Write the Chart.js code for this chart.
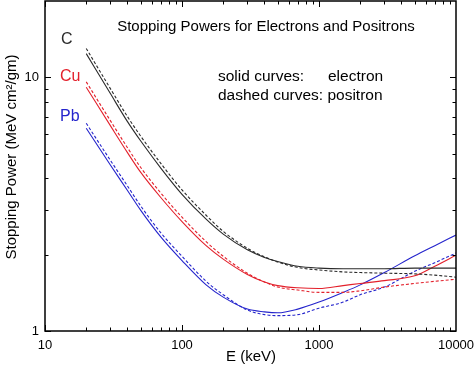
<!DOCTYPE html>
<html>
<head>
<meta charset="utf-8">
<script src="https://cdn.jsdelivr.net/npm/chart.js@4"></script>
<style>
  body { margin: 0; background: #fff; }
  canvas { display: block; }
</style>
</head>
<body>
<canvas id="spChart" width="474" height="366"></canvas>
<script>
// Energies (keV) and stopping powers (MeV cm2/gm)
const energies = [20, 30, 40, 50, 70, 100, 150, 200, 300, 400, 500, 700, 1000, 1500, 2000, 3000, 5000, 7000, 10000]
const cElectron = [12.4, 8.63, 6.69, 5.61, 4.39, 3.46, 2.76, 2.41, 2.09, 1.95, 1.88, 1.80, 1.77, 1.76, 1.76, 1.76, 1.77, 1.77, 1.77]
const cPositron = [13.0, 9.03, 7.0, 5.86, 4.58, 3.60, 2.86, 2.47, 2.12, 1.96, 1.87, 1.78, 1.74, 1.71, 1.70, 1.69, 1.68, 1.66, 1.63]
const cuElectron = [9.14, 6.45, 5.05, 4.22, 3.36, 2.70, 2.17, 1.92, 1.67, 1.56, 1.51, 1.48, 1.47, 1.51, 1.54, 1.58, 1.65, 1.80, 1.99]
const cuPositron = [9.60, 6.75, 5.28, 4.41, 3.50, 2.81, 2.25, 1.97, 1.69, 1.56, 1.49, 1.45, 1.42, 1.42, 1.44, 1.49, 1.54, 1.57, 1.60]
const pbElectron = [6.30, 4.51, 3.58, 2.99, 2.35, 1.895, 1.52, 1.36, 1.22, 1.19, 1.18, 1.22, 1.30, 1.42, 1.52, 1.70, 1.98, 2.17, 2.39]
const pbPositron = [6.59, 4.71, 3.73, 3.11, 2.44, 1.97, 1.57, 1.39, 1.21, 1.16, 1.15, 1.16, 1.23, 1.30, 1.39, 1.49, 1.72, 1.86, 2.03]

const xTickLabels = ["10", "100", "1000", "10000"]
const yTickLabels = ["1", "10"]

const BLACK = "#2a2a2a"
const RED = "#e3202b"
const BLUE = "#2424cc"
const FONT = "'Liberation Sans', Arial, sans-serif"

const pts = (vals) => energies.map((e, i) => ({ x: e, y: vals[i] }))

function series(label, vals, color, dashed) {
  return {
    label: label,
    data: pts(vals),
    borderColor: color,
    borderWidth: 1.1,
    borderDash: dashed ? [3, 2] : [],
    pointRadius: 0,
    fill: false,
    cubicInterpolationMode: "monotone",
  }
}

// frame, inward ticks, tick labels and annotations
const framePlugin = {
  id: "frame",
  afterDraw(chart) {
    const c = chart.ctx
    const xs = chart.scales.x
    const ys = chart.scales.y
    const a = chart.chartArea
    c.save()
    c.strokeStyle = "#000"
    c.lineWidth = 1.5
    c.strokeRect(a.left, a.top, a.right - a.left, a.bottom - a.top)

    c.lineWidth = 1
    c.beginPath()
    for (const d of [10, 100, 1000]) {
      for (let m = 1; m <= 9; m++) {
        const v = d * m
        const px = Math.round(xs.getPixelForValue(v)) + 0.5
        const len = m === 1 ? 6 : 3.5
        c.moveTo(px, a.bottom); c.lineTo(px, a.bottom - len)
        c.moveTo(px, a.top); c.lineTo(px, a.top + len)
      }
    }
    for (const d of [1, 10]) {
      for (let m = 1; m <= 9; m++) {
        const v = d * m
        if (v >= 20) continue
        const py = Math.round(ys.getPixelForValue(v)) + 0.5
        const len = m === 1 ? 6 : 3.5
        c.moveTo(a.left, py); c.lineTo(a.left + len, py)
        c.moveTo(a.right, py); c.lineTo(a.right - len, py)
      }
    }
    c.stroke()

    c.fillStyle = "#000"
    c.font = "13px " + FONT
    c.textAlign = "center"
    c.textBaseline = "middle"
    xTickLabels.forEach((t) => {
      c.fillText(t, xs.getPixelForValue(Number(t)), a.bottom + 14)
    })
    c.textAlign = "right"
    yTickLabels.forEach((t) => {
      c.fillText(t, a.left - 6, ys.getPixelForValue(Number(t)))
    })

    c.font = "15px " + FONT
    c.textAlign = "center"
    c.fillText("E (keV)", 251, 357)
    c.save()
    c.translate(12, 157)
    c.rotate(-Math.PI / 2)
    c.fillText("Stopping Power (MeV cm\u00b2/gm)", 0, 0)
    c.restore()

    c.font = "15px " + FONT
    c.fillText("Stopping Powers for Electrons and Positrons", 266, 27)
    c.font = "15.5px " + FONT
    c.textAlign = "left"
    c.fillText("solid curves:", 218, 77)
    c.fillText("electron", 328, 77)
    c.fillText("dashed curves: positron", 218, 96)

    c.font = "16px " + FONT
    c.fillStyle = BLACK
    c.fillText("C", 61, 40)
    c.fillStyle = RED
    c.fillText("Cu", 60, 77)
    c.fillStyle = BLUE
    c.fillText("Pb", 60, 117)
    c.restore()
  },
}

new Chart(document.getElementById("spChart"), {
  type: "line",
  data: {
    datasets: [
      series("C electron", cElectron, BLACK, false),
      series("C positron", cPositron, BLACK, true),
      series("Cu electron", cuElectron, RED, false),
      series("Cu positron", cuPositron, RED, true),
      series("Pb electron", pbElectron, BLUE, false),
      series("Pb positron", pbPositron, BLUE, true),
    ],
  },
  options: {
    responsive: false,
    animation: false,
    devicePixelRatio: 1,
    layout: { padding: { top: 1, right: 18, left: 0, bottom: 0 } },
    plugins: {
      legend: { display: false },
      tooltip: { enabled: false },
    },
    scales: {
      x: {
        type: "logarithmic",
        min: 10,
        max: 10000,
        grid: { display: false, drawTicks: false },
        border: { display: false },
        ticks: { display: false },
        afterFit: (s) => { s.height = 35 },
      },
      y: {
        type: "logarithmic",
        min: 1,
        max: 20,
        grid: { display: false, drawTicks: false },
        border: { display: false },
        ticks: { display: false },
        afterFit: (s) => { s.width = 45 },
      },
    },
  },
  plugins: [framePlugin],
})
</script>
</body>
</html>
